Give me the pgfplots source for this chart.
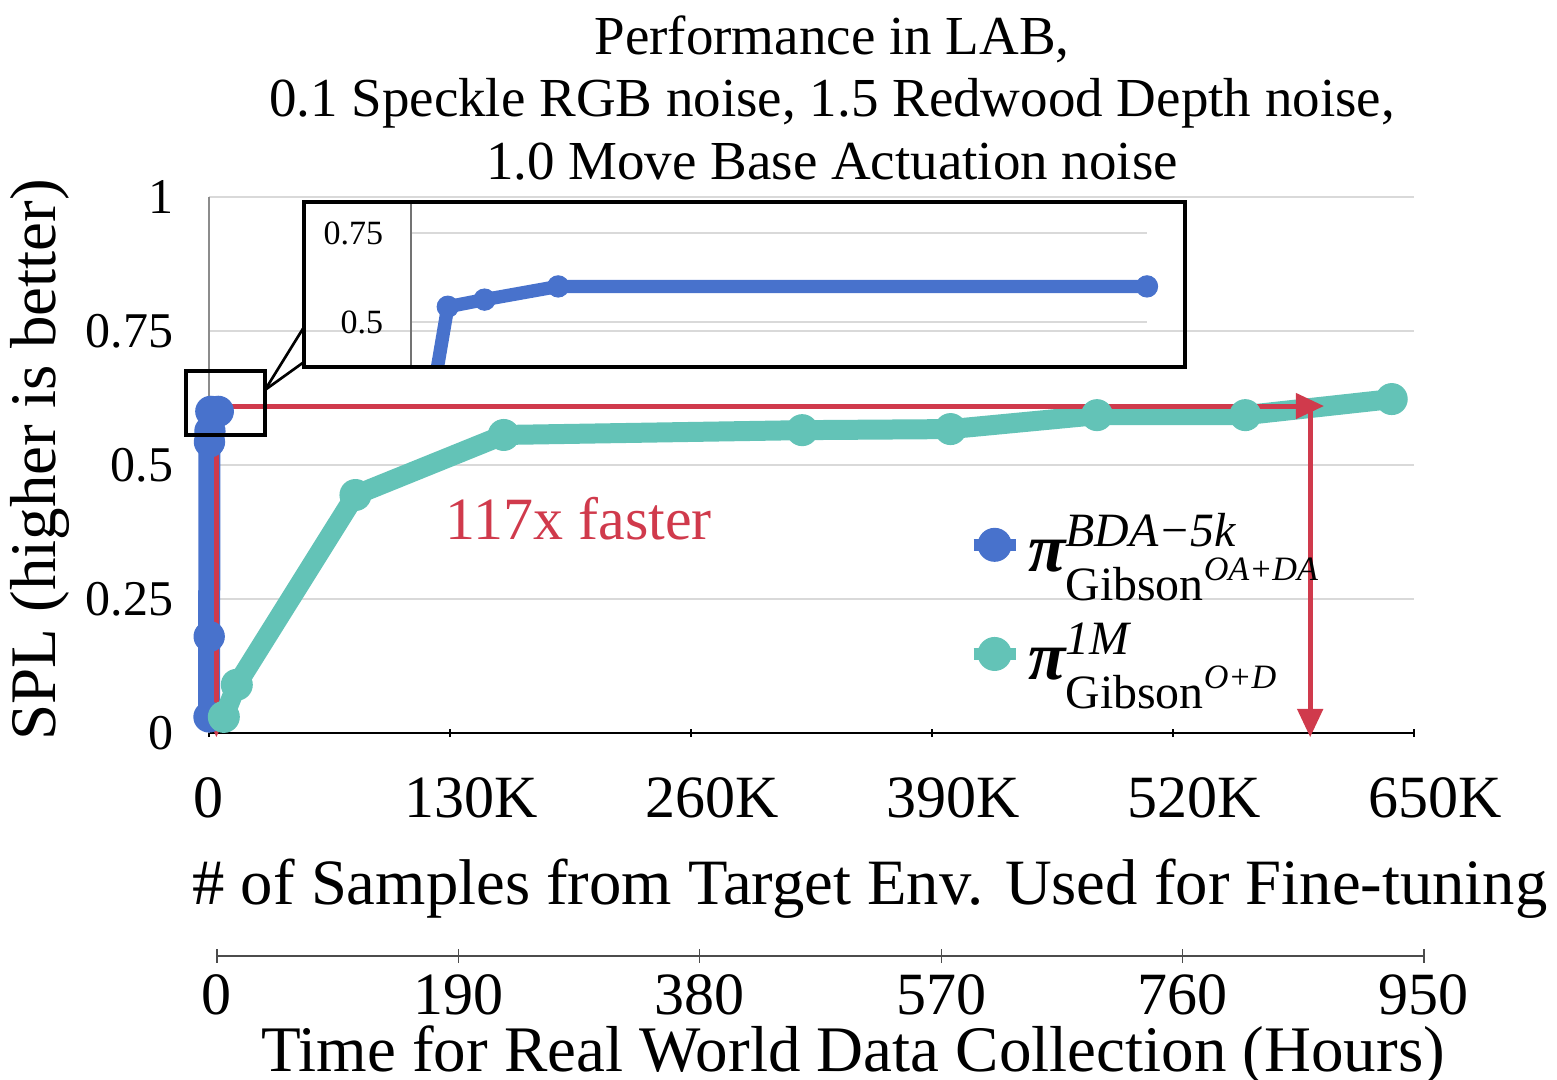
\documentclass[border=0pt]{standalone}
\usepackage{fontspec}
\setmainfont{Liberation Serif}
\usepackage{amsmath}
\usepackage{pgfplots}
\pgfplotsset{compat=1.18}
\usetikzlibrary{arrows.meta}
\definecolor{bblue}{RGB}{72,114,204}
\definecolor{bgreen}{RGB}{99,195,183}
\definecolor{bred}{RGB}{208,58,76}
\definecolor{gridg}{RGB}{217,217,217}
\begin{document}
\begin{tikzpicture}
% ---------------- main axis ----------------
\begin{axis}[
  at={(0pt,0pt)}, anchor=south west,
  scale only axis, width=361.5pt, height=160.8pt,
  xmin=0, xmax=650000, ymin=0, ymax=1,
  clip=false,
  axis x line*=bottom, axis y line*=left,
  x axis line style={black, line width=0.7pt, -},
  y axis line style={black!45, line width=0.4pt, -},
  xtick={0,130000,260000,390000,520000,650000},
  xticklabels={0,\hspace*{13pt}130K,\hspace*{13pt}260K,\hspace*{13pt}390K,\hspace*{13pt}520K,\hspace*{13pt}650K},
  scaled x ticks=false,
  ytick={0,0.25,0.5,0.75,1},
  yticklabels={0,0.25,0.5,0.75,1},
  ymajorgrids, major grid style={gridg, line width=0.45pt},
  ytick style={draw=none},
  xtick style={black, line width=0.4pt},
  tick align=center, major tick length=2.5pt,
  /pgf/number format/assume math mode=true,
  xticklabel style={font=\fontsize{18}{20}\selectfont, yshift=-8.5pt},
  yticklabel style={font=\fontsize{15}{18}\selectfont, xshift=-6pt},
  legend style={draw=none, fill=none, at={(0.629,0.25)}, anchor=west,
    font=\fontsize{20.5}{24}\selectfont, row sep=10pt, inner sep=0pt},
  legend cell align=left,
  legend image code/.code={\draw[#1, line width=3.6pt, mark repeat=2, mark phase=2, mark size=4.9pt] plot coordinates {(0pt,0pt) (6.3pt,0pt) (12.6pt,0pt)};},
]
\addplot[bblue, line width=6.6pt, mark=*, mark size=4.5pt, mark options={solid, line width=0.4pt}] coordinates {
  (0,0.03) (100,0.18) (250,0.543) (500,0.563) (1000,0.60) (5000,0.60)};
\addlegendentry{$\text{\bfseries\itshape π}^{\text{\itshape BDA−5k}}_{\text{Gibson}^{\text{\itshape OA+DA}}}$}
\addplot[bgreen, line width=6pt, mark=*, mark size=4.6pt, mark options={solid, line width=0.4pt}] coordinates {
  (8000,0.03) (15000,0.09) (79000,0.444) (159000,0.556) (320000,0.565) (400000,0.567) (479000,0.593) (559000,0.593) (638000,0.623)};
\addlegendentry{$\text{\bfseries\itshape π}^{\text{\itshape 1M}}_{\text{Gibson}^{\text{\itshape O+D}}}$}
% red annotation arrows
\draw[bred, line width=1.5pt, -{Triangle[width=7.5pt,length=8.5pt]}] (axis cs:4000,0.61) -- (axis cs:601500,0.61);
\draw[bred, line width=1.5pt, -{Triangle[width=7.5pt,length=8.5pt]}] (axis cs:594000,0.61) -- (axis cs:594000,-0.008);
\draw[bred, line width=1.5pt, -{Triangle[width=7.5pt,length=8.5pt]}] (axis cs:4000,0.61) -- (axis cs:4000,-0.008);
\end{axis}
% ---------------- inset axis ----------------
\begin{axis}[
  at={(60.6pt,109.8pt)}, anchor=south west,
  scale only axis, width=220.8pt, height=49.2pt,
  xmin=0, xmax=5000, ymin=0.374, ymax=0.834,
  axis x line=none, axis y line*=left,
  y axis line style={black!55, line width=0.4pt, -},
  xtick=\empty,
  ytick={0.5,0.75}, yticklabels={0.5,0.75},
  ymajorgrids, major grid style={gridg, line width=0.45pt},
  ytick style={draw=none},
  /pgf/number format/assume math mode=true,
  yticklabel style={font=\fontsize{10.2}{12}\selectfont, xshift=-4.8pt},
]
\addplot[bblue, line width=4pt, mark=*, mark size=3.2pt, mark options={solid, line width=0.3pt}] coordinates {
  (0,0.03) (100,0.18) (250,0.543) (500,0.563) (1000,0.60) (5000,0.60)};
\end{axis}
% ---------------- hours axis ----------------
\begin{axis}[
  at={(2.4pt,-66.9pt)}, anchor=south west,
  scale only axis, width=362.1pt, height=10pt,
  xmin=0, xmax=950, ymin=0, ymax=1,
  axis x line*=bottom, axis y line=none,
  x axis line style={black!70, line width=0.5pt, -},
  xtick={0,190,380,570,760,950},
  xticklabels={0,190,380,570,760,950},
  xtick style={black!70, line width=0.4pt},
  tick align=center, major tick length=4pt,
  /pgf/number format/assume math mode=true,
  xticklabel style={font=\fontsize{18}{20}\selectfont, yshift=0pt},
]
\addplot[draw=none] coordinates {(0,0) (950,0)};
\end{axis}
% ---------------- annotations in pixel coordinates ----------------
\begin{scope}[x=0.3pt, y=-0.3pt, shift={(-209,-733)}]
  \node[anchor=base, font=\fontsize{16.5}{19}\selectfont, inner sep=0pt] at (832,55) {Performance in LAB,};
  \node[anchor=base, font=\fontsize{16.5}{19}\selectfont, inner sep=0pt] at (832,117) {0.1 Speckle RGB noise, 1.5 Redwood Depth noise,};
  \node[anchor=base, font=\fontsize{16.5}{19}\selectfont, inner sep=0pt] at (832,180) {1.0 Move Base Actuation noise};
  \node[anchor=base, rotate=90, font=\fontsize{19.5}{22}\selectfont, inner sep=0pt] at (56,460) {SPL (higher is better)};
  \node[anchor=base, font=\fontsize{19.4}{24}\selectfont, inner sep=0pt] at (870,905) {\# of Samples from Target Env. Used for Fine-tuning};
  \node[anchor=base, font=\fontsize{19.5}{24}\selectfont, inner sep=0pt] at (853,1072) {Time for Real World Data Collection (Hours)};
  \node[anchor=base west, font=\fontsize{18}{20}\selectfont, text=bred, inner sep=0pt] at (445,540) {117x faster};
  % inset frame, zoom box and connectors
  \draw[black, line width=1.1pt] (304,202) rectangle (1185,367);
  \draw[black, line width=1pt] (186,371) rectangle (265,435);
  \draw[black, line width=0.8pt] (265,390) -- (304,327);
  \draw[black, line width=0.8pt] (265,390) -- (304,362);
  \pgfresetboundingbox
  \useasboundingbox (0,0) rectangle (1557,1080);
\end{scope}
\end{tikzpicture}
\end{document}
